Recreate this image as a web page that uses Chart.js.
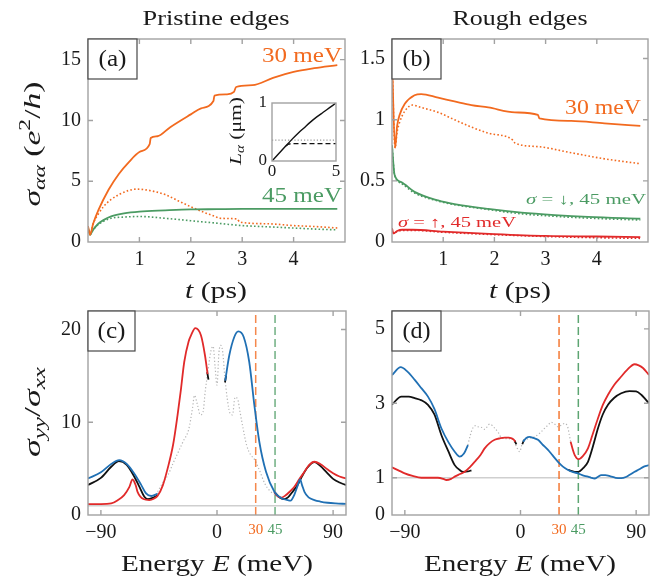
<!DOCTYPE html>
<html><head><meta charset="utf-8">
<script src="https://cdn.jsdelivr.net/npm/chart.js@4.4.1/dist/chart.umd.min.js"></script>
<style>
body{margin:0;background:#fff}
#wrap{position:relative;width:670px;height:582px;background:#fff}
canvas{position:absolute;left:0;top:0}
</style></head>
<body><div id="wrap">
<canvas id="ca" width="670" height="582"></canvas>
<canvas id="cb" width="670" height="582"></canvas>
<canvas id="cc" width="670" height="582"></canvas>
<canvas id="cd" width="670" height="582"></canvas>
<canvas id="ci" width="670" height="582"></canvas>
</div>
<script>
// ---------------- DATA ----------------
// Panel (a) pristine edges, sigma vs t (ps)
const tA_o30 = [0,0.04,0.1,0.2,0.4,0.6,0.8,1.0,1.2,1.22,1.35,1.6,2.0,2.2,2.44,2.46,2.7,2.84,2.88,3.2,3.6,4.0,4.4,4.85];
const vA_o30 = [1.3,0.6,1.5,2.6,4.3,5.6,6.6,7.4,8.05,8.55,8.7,9.45,10.5,11.0,11.6,12.05,12.15,12.35,12.75,12.9,13.5,14.0,14.3,14.55];
const tA_o30d = [0,0.04,0.1,0.2,0.3,0.45,0.6,0.8,0.95,1.1,1.3,1.5,1.75,2.0,2.25,2.5,2.55,2.9,2.95,3.5,4.0,4.5,4.85];
const vA_o30d = [1.3,0.6,1.5,2.3,2.9,3.5,3.9,4.25,4.35,4.3,4.15,3.9,3.4,2.9,2.45,2.05,1.95,1.9,1.65,1.5,1.35,1.25,1.15];
const tA_g45 = [0,0.04,0.1,0.2,0.3,0.45,0.7,1.0,1.5,2.0,2.5,3,4,4.85];
const vA_g45 = [1.2,0.6,1.0,1.5,1.8,2.1,2.35,2.5,2.6,2.68,2.7,2.72,2.72,2.72];
const tA_g45d = [0,0.04,0.1,0.2,0.3,0.45,0.7,1.0,1.5,2.0,2.5,3.0,3.5,4.0,4.5,4.85];
const vA_g45d = [1.2,0.6,1.0,1.45,1.7,1.95,2.05,2.1,1.95,1.75,1.55,1.35,1.25,1.15,1.05,1.0];
// Inset: L_alpha (um) vs t
const tIn = [0,0.5,1,1.5,2,2.5,3,3.5,4,4.5,5];
const vIn = [0,0.12,0.24,0.36,0.47,0.57,0.67,0.76,0.84,0.92,1.0];
const tInDash = [1.1,1.3,1.6,2,3,4,5];
const vInDash = [0.26,0.29,0.3,0.3,0.3,0.3,0.3];
const tInDot = [0,5];
const vInDot = [0.36,0.36];
// Panel (b) rough edges
const tB_o30 = [0,0.06,0.1,0.15,0.25,0.44,0.57,0.9,1.22,1.55,1.88,2.4,2.85,2.88,3.5,4.15,4.85];
const vB_o30 = [1.5,0.77,0.95,1.04,1.13,1.2,1.21,1.18,1.15,1.12,1.1,1.06,1.04,1.01,0.99,0.97,0.95];
const tB_o30d = [0,0.06,0.1,0.15,0.25,0.4,0.57,0.9,1.22,1.55,1.88,2.37,2.4,2.85,3.5,4.15,4.85];
const vB_o30d = [1.5,0.77,0.9,0.98,1.07,1.12,1.10,1.06,1.0,0.94,0.89,0.83,0.81,0.78,0.73,0.68,0.64];
const tB_g = [0,0.05,0.18,0.44,0.9,1.22,1.88,2.53,3.18,3.83,4.85];
const vB_gDown = [0.79,0.55,0.49,0.41,0.34,0.31,0.27,0.24,0.22,0.205,0.19];
const vB_gDownD = [0.79,0.55,0.48,0.40,0.335,0.305,0.265,0.23,0.21,0.195,0.18];
const tB_r = [0,0.03,0.1,0.2,0.4,1,2,3,4,4.85];
const vB_rUp = [0.11,0.07,0.09,0.1,0.1,0.085,0.065,0.05,0.045,0.04];
const vB_rUpD = [0.11,0.07,0.085,0.095,0.095,0.08,0.06,0.045,0.035,0.03];
// Panel (c) pristine sigma_yy/sigma_xx vs E (meV)
const eC_blueL = [-100,-90,-82,-75.8,-70,-64.2,-59,-55,-51,-46];
const vC_blueL = [3.94,4.6,5.5,5.91,5.5,4.48,3.3,2.33,2.05,2.3];
const eC_blackL = [-100,-90,-82,-76,-70,-64,-60,-56.3,-53.7,-50,-46];
const vC_blackL = [3.23,4.0,5.2,5.8,5.4,4.1,3.0,1.97,1.72,1.85,2.1];
const eC_red = [-100,-90,-82,-77,-72,-68,-65.5,-63,-61.6,-57,-52.5,-49,-46,-42,-38.3,-34,-30.6,-28,-25.4,-22,-20.2,-16.8,-12.4,-9.3,-7.3];
const vC_red = [1.18,1.18,1.25,1.6,2.15,3.0,3.83,3.2,2.5,1.72,1.61,1.75,2.08,3.2,5.0,7.6,10.75,13.5,16.5,18.7,19.35,20.15,19.35,17.2,15.2];
const eC_blue = [6.4,9.5,13.4,16.5,20.7,25,29,32.8,38,44.5,48,52,54.8,57,60,62.6,64.4,66,67.8,71,75.5,80,85.8,92,100];
const vC_blue = [14.5,17.2,19.2,19.8,19.2,16.5,11.8,7.9,4.66,2.5,2.0,1.7,1.61,1.55,2.2,3.2,3.83,3.2,2.5,1.9,1.61,1.45,1.32,1.25,1.2];
const eC_redR = [44.5,46,49.7,53,57,60,64,67.8,71.5,75.5,80,85.8,90,95,100];
const vC_redR = [2.5,2.15,1.87,2.1,2.6,3.04,3.9,4.66,5.4,5.74,5.5,4.9,4.5,4.15,3.95];
const eC_blackR = [44.5,48,52.2,55,58,62.3,66,70,75.5,80,85,90,95,100];
const vC_blackR = [2.5,1.95,1.72,1.9,2.4,3.2,4.2,5.1,5.7,5.3,4.6,3.9,3.5,3.23];
const eC_tipL = [-7.6,-6.6]; const vC_tipL = [15.4,14.6];
const eC_tipR = [6.2,7.0]; const vC_tipR = [14.3,15.0];
const eC_gray = [-46,-42,-38,-34,-30,-26,-22,-19,-17.5,-15,-13,-11,-9,-7,-5,-3,-1.5,0,1.5,3,4.5,6,8,10,12,14,16,18,20,23,26,29,33,37,41,45];
const vC_gray = [2.5,3.5,4.3,5.6,6.8,8.0,9.2,11.5,12.9,11.8,10.8,11.0,13.5,15.5,17.5,18.2,16,14.0,17.5,18.3,17.5,15,12.5,11.0,10.8,12.7,12.5,11,9.5,7.5,6.5,6.0,4.8,3.4,2.6,2.2];
// Panel (d) rough
const eD_blueL = [-100,-93.2,-88,-82.3,-77,-72,-67,-61.6,-56,-51.2,-47.3,-44,-40.9];
const vD_blueL = [3.76,3.97,3.85,3.63,3.4,3.18,2.85,2.33,1.95,1.70,1.57,1.65,1.88];
const eD_blackL = [-100,-92.7,-87,-82.3,-77,-72,-67,-61.6,-56,-51.2,-47,-44.7,-41,-38.2];
const vD_blackL = [2.97,3.18,3.18,3.14,3.08,2.96,2.7,2.15,1.7,1.34,1.2,1.16,1.17,1.2];
const eD_red = [-100,-95,-90.1,-84,-77.2,-70,-64.3,-60,-57.7,-54,-51.2,-47,-43.4,-39,-35.6,-31,-27.9,-24,-20.1,-16,-12.3,-9,-7.1,-5.5,-4];
const vD_red = [1.28,1.2,1.12,1.05,1.0,1.0,1.0,0.97,0.94,0.97,1.03,1.1,1.16,1.3,1.43,1.62,1.79,1.93,2.02,2.06,2.08,2.08,2.06,2.03,1.97];
const eD_blue = [2,4.5,7.1,10,13.6,17,21.4,25,29.2,33,37,41,44.7,48,52.5,55,57.7,60,62.9,66,70,74,78.4,82,85,88.8,92,96,100];
const vD_blue = [1.97,2.07,2.1,2.07,2.02,1.9,1.75,1.6,1.43,1.3,1.21,1.15,1.12,1.07,1.03,1.0,0.98,1.02,1.07,1.07,1.04,1.0,0.99,1.02,1.08,1.16,1.22,1.3,1.34];
const eD_blackR = [37,42.2,45,48.5,52.5,56,60.3,64,68.1,73,78.4,84.9,90,94,97,100];
const vD_blackR = [1.21,1.16,1.16,1.25,1.43,1.8,2.33,2.7,2.96,3.15,3.27,3.33,3.32,3.23,3.12,3.0];
const eD_redR = [39,40.5,42.2,45.3,48.5,52.5,56,60.3,64,68.1,73,78.4,83,88.8,92,95.3,100];
const vD_redR = [1.97,1.78,1.61,1.5,1.58,1.79,2.15,2.6,2.95,3.23,3.5,3.72,3.9,4.05,4.02,3.95,3.76];
const eD_tipL = [-4.6,-3.2]; const vD_tipL = [2.0,1.9];
const eD_tipR = [1.4,2.8]; const vD_tipR = [1.9,2.02];
const eD_grayL = [-41,-39,-37.2,-35,-33.1,-30,-27.9,-24,-20,-17,-15,-10,-6,-3.2,-0.6,1,2.5];
const vD_grayL = [1.88,2.15,2.33,2.4,2.37,2.35,2.3,2.44,2.33,2.2,2.08,2.05,2.03,1.84,1.7,1.88,2.0];
const eD_grayR = [2.5,6,11,15,18.8,21,24,27,29.2,32,34.4,36,37,38,39];
const vD_grayR = [2.0,2.05,2.1,2.2,2.33,2.4,2.49,2.43,2.37,2.42,2.46,2.42,2.33,2.15,1.97];
// reference lines
const eRange = [-100,100];
const unityLine = [1,1];
const markE = [30,45];
// tick labels
const ticksAx = [1,2,3,4], ticksAy = [0,5,10,15];
const ticksBx = [1,2,3,4], ticksBy = [0,0.5,1,1.5];
const ticksEx = [-90,0,30,45,90];
const ticksCy = [0,10,20], ticksDy = [0,1,3,5];
const ticksInX = [0,5], ticksInY = [0,1];

// ---------------- STYLE ----------------
const FONT = "'Liberation Serif','DejaVu Serif',serif";
const ORANGE = '#F26A1F', GREEN = '#4B9B63', RED = '#E12A2A', BLUE = '#2070B4', BLACK = '#111111';
const TXT = '#1a1a1a';

function ser(xs, ys, st){
  return Object.assign({data: xs.map((x,i)=>({x:x, y:ys[i]})), showLine:true, pointRadius:0, borderWidth:1.8, fill:false, cubicInterpolationMode:'monotone'}, st);
}
function solid(c, w){ return {borderColor:c, borderWidth:w||1.8}; }
function dotted(c){ return {borderColor:c, borderWidth:1.6, borderDash:[1.6,2.2]}; }

function fontStr(s, size){ return (s.i?'italic ':'') + (size*(s.s||1)).toFixed(2) + 'px ' + FONT; }
// text drawn at font size 'size', horizontally stretched to width 'w' (Computer-Modern-like proportions)
function drawRich(ctx, segs, cx, cy, size, w, rot, color){
  ctx.save();
  let tot = 0;
  segs.forEach(s=>{ ctx.font = fontStr(s, size); tot += ctx.measureText(s.t).width; });
  const sx = w ? w / tot : 1;
  ctx.translate(cx, cy); ctx.rotate(rot||0); ctx.scale(sx, 1);
  ctx.fillStyle = color || TXT; ctx.textAlign='left'; ctx.textBaseline='alphabetic';
  let x = -tot/2;
  segs.forEach(s=>{ ctx.font = fontStr(s, size); ctx.fillText(s.t, x, size*0.33 + (s.dy||0)*size); x += ctx.measureText(s.t).width; });
  ctx.restore();
}

const framePlugin = {
  id:'frame',
  afterDatasetsDraw(chart, args, o){
    const ctx = chart.ctx, a = chart.chartArea, x = chart.scales.x, y = chart.scales.y;
    ctx.save();
    ctx.strokeStyle = '#a2a2a2'; ctx.lineWidth = 1.4;
    ctx.strokeRect(a.left, a.top, a.right-a.left, a.bottom-a.top);
    const L = 5;
    ctx.beginPath();
    (o.xMarks||[]).forEach(v=>{ const p = x.getPixelForValue(v); ctx.moveTo(p,a.bottom); ctx.lineTo(p,a.bottom-L); ctx.moveTo(p,a.top); ctx.lineTo(p,a.top+L); });
    (o.yMarks||[]).forEach(v=>{ const p = y.getPixelForValue(v); ctx.moveTo(a.left,p); ctx.lineTo(a.left+L,p); ctx.moveTo(a.right,p); ctx.lineTo(a.right-L,p); });
    ctx.stroke();
    if (o.letter){
      const bw = o.letterW||49, bh = 40;
      ctx.fillStyle = '#fff'; ctx.fillRect(a.left, a.top, bw, bh);
      ctx.strokeStyle = '#474747'; ctx.lineWidth = 1.2; ctx.strokeRect(a.left, a.top, bw, bh);
      drawRich(ctx, [{t:o.letter}], a.left + bw/2, a.top + bh/2 - 1, 23, 28, 0, TXT);
    }
    (o.texts||[]).forEach(t=> drawRich(ctx, t.segs, t.cx, t.cy, t.size, t.w, t.rot, t.color));
    ctx.restore();
  }
};

function axisX(min, max, ticks, extra){
  return Object.assign({type:'linear', min:min, max:max, position:'bottom',
    grid:{display:false, drawTicks:false}, border:{display:false},
    afterFit: s=>{ s.height = 40; },
    afterBuildTicks: s=>{ s.ticks = ticks.map(v=>({value:v})); },
    ticks:{autoSkip:false, maxRotation:0, padding:6, color:TXT, font:{family:FONT, size:20},
      callback: v=> (v<0?'\u2212'+Math.abs(v):String(v))}}, extra||{});
}
function axisY(min, max, ticks, width, extra){
  return Object.assign({type:'linear', min:min, max:max,
    grid:{display:false, drawTicks:false}, border:{display:false},
    afterFit: s=>{ s.width = width; },
    afterBuildTicks: s=>{ s.ticks = ticks.map(v=>({value:v})); },
    ticks:{autoSkip:false, padding:7, color:TXT, font:{family:FONT, size:20},
      callback: v=> String(v)}}, extra||{});
}
function make(id, box, xs, ys, datasets, frame){
  const n = datasets.length;
  datasets.forEach((d,i)=>{ d.order = n - i; });
  return new Chart(document.getElementById(id), {
    type:'scatter',
    data:{datasets:datasets},
    options:{responsive:false, animation:false, events:[], devicePixelRatio:1,
      layout:{padding:{left:0, top:box.top, right:670-box.right, bottom:582-box.bottom-40}},
      plugins:{legend:{display:false}, tooltip:{enabled:false}, frame:frame},
      scales:{x:xs, y:ys}},
    plugins:[framePlugin]
  });
}

const segT = [{t:'t',i:1},{t:' (ps)'}];
const segE = [{t:'Energy '},{t:'E',i:1},{t:' (meV)'}];

// ---------------- PANEL (a) ----------------
make('ca', {left:88, top:39, right:345, bottom:242},
  axisX(0, 5, ticksAx), axisY(0, 16.7, ticksAy, 88),
  [
    ser(tA_g45d, vA_g45d, dotted(GREEN)),
    ser(tA_o30d, vA_o30d, dotted(ORANGE)),
    ser(tA_g45, vA_g45, solid(GREEN)),
    ser(tA_o30, vA_o30, solid(ORANGE)),
  ],
  {xMarks:[1,2,3,4], yMarks:[5,10,15], letter:'(a)', letterW:49,
   texts:[
    {segs:[{t:'30 meV'}], cx:302, cy:55, size:21, w:80, color:ORANGE},
    {segs:[{t:'45 meV'}], cx:302, cy:195, size:21, w:80, color:GREEN},
    {segs:[{t:'Pristine edges'}], cx:216, cy:18, size:21, w:147},
    {segs:segT, cx:216, cy:290, size:23, w:62},
    {segs:[{t:'\u03C3',i:1},{t:'\u03B1\u03B1',i:1,s:0.7,dy:0.22},{t:' ('},{t:'e',i:1},{t:'2',s:0.7,dy:-0.42},{t:'/'},{t:'h',i:1},{t:')'}], cx:32, cy:144, size:23, w:125, rot:-Math.PI/2}
   ]});

// ---------------- PANEL (b) ----------------
make('cb', {left:392, top:39, right:648, bottom:242},
  axisX(0, 5, ticksBx), axisY(0, 1.66, ticksBy, 392),
  [
    ser(tB_r, vB_rUpD, dotted(RED)),
    ser(tB_g, vB_gDownD, dotted(GREEN)),
    ser(tB_o30d, vB_o30d, dotted(ORANGE)),
    ser(tB_r, vB_rUp, solid(RED)),
    ser(tB_g, vB_gDown, solid(GREEN)),
    ser(tB_o30, vB_o30, solid(ORANGE)),
  ],
  {xMarks:[1,2,3,4], yMarks:[0.5,1,1.5], letter:'(b)', letterW:49,
   texts:[
    {segs:[{t:'30 meV'}], cx:603, cy:107, size:21, w:76, color:ORANGE},
    {segs:[{t:'\u03C3',i:1},{t:' = \u2193, 45 meV'}], cx:586, cy:199, size:15, w:120, color:GREEN},
    {segs:[{t:'\u03C3',i:1},{t:' = \u2191, 45 meV'}], cx:457, cy:222, size:15, w:118, color:RED},
    {segs:[{t:'Rough edges'}], cx:520, cy:18, size:21, w:135},
    {segs:segT, cx:520, cy:290, size:23, w:62}
   ]});

// ---------------- PANELS (c),(d) ----------------
const eTickStyle = {
  color: c=> c.tick && c.tick.value===30 ? ORANGE : (c.tick && c.tick.value===45 ? GREEN : TXT),
  font: c=> ({family:FONT, size: (c.tick && (c.tick.value===30||c.tick.value===45)) ? 15 : 20})
};
function axisE(){
  const ax = axisX(-100, 100, ticksEx);
  ax.ticks.color = eTickStyle.color; ax.ticks.font = eTickStyle.font;
  return ax;
}
function vline(xv, ymax, c){
  return ser([xv,xv],[0,ymax], {borderColor:c, borderWidth:1.5, borderDash:[8,4], cubicInterpolationMode:'default'});
}
const GRAYD = {borderColor:'#b4b4b4', borderWidth:1.2, borderDash:[1.2,2.2]};

make('cc', {left:88, top:311, right:346, bottom:515},
  axisE(), axisY(0, 22, ticksCy, 88),
  [
    ser(eRange, unityLine, {borderColor:'#cfcfcf', borderWidth:1.6}),
    ser(eC_gray, vC_gray, GRAYD),
    vline(markE[0], 22, 'rgba(242,106,31,0.8)'),
    vline(markE[1], 22, 'rgba(75,155,99,0.8)'),
    ser(eC_tipL, vC_tipL, solid(BLACK)),
    ser(eC_tipR, vC_tipR, solid(BLACK)),
    ser(eC_blackL, vC_blackL, solid(BLACK)),
    ser(eC_blackR, vC_blackR, solid(BLACK)),
    ser(eC_blueL, vC_blueL, solid(BLUE)),
    ser(eC_redR, vC_redR, solid(RED)),
    ser(eC_red, vC_red, solid(RED)),
    ser(eC_blue, vC_blue, solid(BLUE)),
  ],
  {xMarks:[-90,0,90], yMarks:[10,20], letter:'(c)', letterW:47,
   texts:[
    {segs:segE, cx:217, cy:563, size:23, w:192},
    {segs:[{t:'\u03C3',i:1},{t:'yy',i:1,s:0.7,dy:0.22},{t:'/'},{t:'\u03C3',i:1},{t:'xx',i:1,s:0.7,dy:0.22}], cx:32, cy:412, size:23, w:90, rot:-Math.PI/2}
   ]});

make('cd', {left:392, top:311, right:649, bottom:515},
  axisE(), axisY(0, 5.48, ticksDy, 392),
  [
    ser(eRange, unityLine, {borderColor:'#cfcfcf', borderWidth:1.6}),
    ser(eD_grayL, vD_grayL, GRAYD),
    ser(eD_grayR, vD_grayR, GRAYD),
    vline(markE[0], 5.48, 'rgba(242,106,31,0.9)'),
    vline(markE[1], 5.48, 'rgba(75,155,99,0.9)'),
    ser(eD_tipL, vD_tipL, solid(BLACK)),
    ser(eD_tipR, vD_tipR, solid(BLACK)),
    ser(eD_blackL, vD_blackL, solid(BLACK)),
    ser(eD_blackR, vD_blackR, solid(BLACK)),
    ser(eD_blueL, vD_blueL, solid(BLUE)),
    ser(eD_redR, vD_redR, solid(RED)),
    ser(eD_red, vD_red, solid(RED)),
    ser(eD_blue, vD_blue, solid(BLUE)),
  ],
  {xMarks:[-90,0,90], yMarks:[1,3,5], letter:'(d)', letterW:49,
   texts:[
    {segs:segE, cx:520, cy:563, size:23, w:192}
   ]});

// ---------------- INSET ----------------
const insetBg = {id:'insetBg', beforeDatasetsDraw(chart){ const a = chart.chartArea, c = chart.ctx; c.save(); c.fillStyle='#fff'; c.fillRect(a.left,a.top,a.right-a.left,a.bottom-a.top); c.restore(); }};
new Chart(document.getElementById('ci'), {
  type:'scatter',
  data:{datasets:[
    Object.assign(ser(tIn, vIn, {borderColor:BLACK, borderWidth:1.4}), {order:1}),
    Object.assign(ser(tInDash, vInDash, {borderColor:BLACK, borderWidth:1.4, borderDash:[5,3]}), {order:2}),
    Object.assign(ser(tInDot, vInDot, {borderColor:'#9a9a9a', borderWidth:1.2, borderDash:[1.2,2]}), {order:3}),
  ]},
  options:{responsive:false, animation:false, events:[], devicePixelRatio:1,
    layout:{padding:{left:0, top:103, right:670-336, bottom:582-161-22}},
    plugins:{legend:{display:false}, tooltip:{enabled:false}, frame:{texts:[
      {segs:[{t:'L',i:1},{t:'\u03B1',i:1,s:0.7,dy:0.22},{t:' (\u03BCm)'}], cx:235, cy:131, size:17, w:68, rot:-Math.PI/2}
    ]}},
    scales:{
      x:{type:'linear', min:0, max:5, grid:{display:false,drawTicks:false}, border:{display:false},
        afterFit:s=>{s.height=22;}, afterBuildTicks:s=>{s.ticks=ticksInX.map(v=>({value:v}));},
        ticks:{autoSkip:false, maxRotation:0, padding:0, color:TXT, font:{family:FONT,size:17}}},
      y:{type:'linear', min:0, max:1, grid:{display:false,drawTicks:false}, border:{display:false},
        afterFit:s=>{s.width=272;}, afterBuildTicks:s=>{s.ticks=ticksInY.map(v=>({value:v}));},
        ticks:{autoSkip:false, padding:5, color:TXT, font:{family:FONT,size:17}}}
    }},
  plugins:[insetBg, framePlugin]
});
</script>
</body></html>
